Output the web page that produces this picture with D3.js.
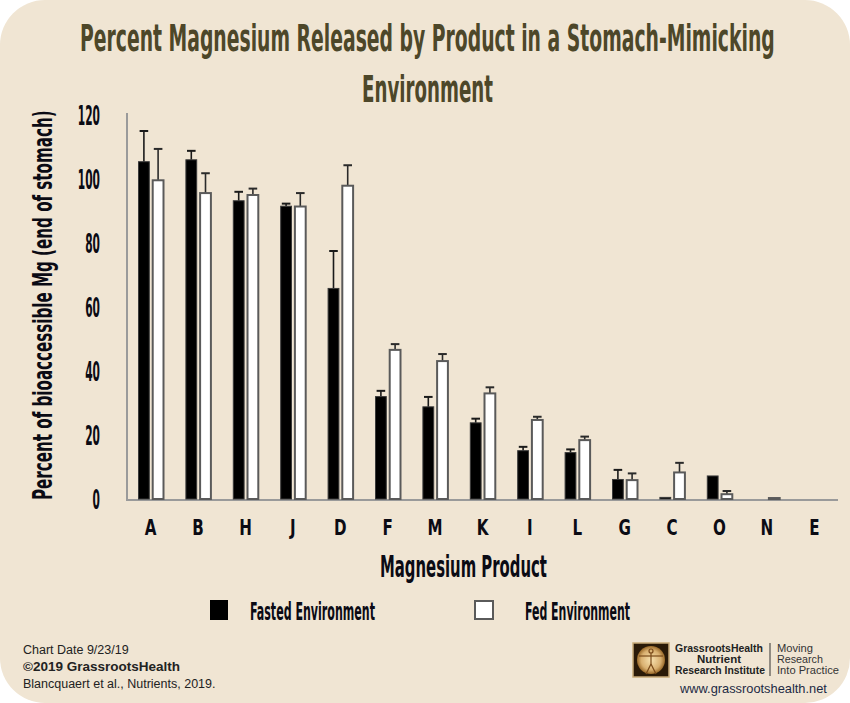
<!DOCTYPE html>
<html>
<head>
<meta charset="utf-8">
<script src="https://cdn.jsdelivr.net/npm/d3@7"></script>
<style>
  html, body { margin: 0; padding: 0; background: #ffffff; }
  svg { display: block; }
</style>
</head>
<body>
<svg id="chart" width="850" height="703"></svg>
<script>
// ---- Data ----
const categories = ["A","B","H","J","D","F","M","K","I","L","G","C","O","N","E"];
const fastedValues = [105.4, 106.0, 93.2, 91.5, 65.8, 32.0, 28.8, 23.8, 15.1, 14.5, 6.1, 0.5, 7.2, 0, 0];
const fastedErrors = [115.0, 108.8, 96.0, 92.3, 77.5, 33.8, 31.9, 25.1, 16.3, 15.5, 9.1, 0.5, 7.2, 0, 0];
const fedValues    = [99.6, 95.6, 95.0, 91.4, 97.9, 46.6, 43.1, 33.0, 24.7, 18.4, 5.9, 8.3, 1.5, 0.3, 0];
const fedErrors    = [109.4, 101.8, 97.0, 95.6, 104.3, 48.4, 45.3, 34.9, 25.7, 19.5, 8.0, 11.3, 2.5, 0.3, 0];
const yTicks = [0, 20, 40, 60, 80, 100, 120];
const seriesNames = ["Fasted Environment", "Fed Environment"];

const condensed = "'Liberation Sans Narrow','DejaVu Sans Condensed','Arial Narrow',sans-serif";
const svg = d3.select("#chart");

// fit a text horizontally to a target width by scaling (keeps screen bbox correct)
function fitText(parent, str, opts) {
  const g = parent.append("g");
  const t = g.append("text").text(str)
    .attr("text-anchor", "start")
    .attr("font-family", opts.family || condensed)
    .attr("font-weight", opts.weight || "bold")
    .attr("font-size", opts.size)
    .attr("fill", opts.fill || "#0b0b14");
  const w = t.node().getComputedTextLength();
  const sx = opts.width / w;
  let ox = 0;
  if (opts.anchor === "middle") ox = -opts.width / 2;
  if (opts.anchor === "end") ox = -opts.width;
  g.attr("transform", "translate(" + opts.x + "," + opts.y + ")" +
    (opts.rotate ? " rotate(" + opts.rotate + ")" : "") +
    " translate(" + ox + ",0) scale(" + sx + ",1)");
  return g;
}

// background card
svg.append("rect").attr("x", 0).attr("y", 0).attr("width", 850).attr("height", 703)
  .attr("rx", 45).attr("ry", 45).attr("fill", "#f0e5d3");

// scales
const x = d3.scaleBand().domain(categories).range([127, 838]);
const x1 = d3.scaleBand().domain(["fasted", "fed"]).range([0, 25]).paddingInner(0.24);
const y = d3.scaleLinear().domain([0, 120]).range([499, 115]);

// title
fitText(svg, "Percent Magnesium Released by Product in a Stomach-Mimicking",
  {x: 427.5, y: 51, width: 695, size: 37, anchor: "middle", fill: "#4d4729"});
fitText(svg, "Environment",
  {x: 427.5, y: 102, width: 131, size: 37, anchor: "middle", fill: "#4d4729"});

// y axis
const yAxis = svg.append("g").attr("transform", "translate(127,0)")
  .call(d3.axisLeft(y).tickValues(yTicks).tickSize(0).tickFormat(""));
yAxis.select(".domain").attr("stroke", "#9a9a9a").attr("stroke-width", 2)
  .attr("d", "M0,113V500");
yAxis.selectAll(".tick").each(function(d) {
  fitText(d3.select(this), String(d),
    {x: -27, y: 9, width: String(d).length * 7.4, size: 26, anchor: "end"});
});

// x axis
const xAxis = svg.append("g").attr("transform", "translate(0,500)")
  .call(d3.axisBottom(x).tickSize(0).tickFormat(""));
xAxis.select(".domain").attr("stroke", "#9a9a9a").attr("stroke-width", 2)
  .attr("d", "M126,0H838");
xAxis.selectAll(".tick").each(function(d) {
  const t = d3.select(this).append("text").text(d)
    .attr("font-family", condensed).attr("font-weight", "bold").attr("font-size", 21)
    .attr("fill", "#0b0b14").attr("text-anchor", "middle")
    .attr("transform", "translate(0,35) scale(0.8,1)");
});

// bars
const rows = categories.map((c, i) => ({
  cat: c,
  fasted: fastedValues[i], fastedErr: fastedErrors[i],
  fed: fedValues[i], fedErr: fedErrors[i]
}));

const groups = svg.append("g").selectAll("g").data(rows).join("g")
  .attr("transform", d => "translate(" + (x(d.cat) + 11.5) + ",0)");

function drawErr(key, errKey, color) {
  groups.filter(d => d[errKey] > d[key]).each(function(d) {
    const g = d3.select(this);
    const cx = x1(key) + x1.bandwidth() / 2;
    g.append("line").attr("x1", cx).attr("x2", cx)
      .attr("y1", y(d[key])).attr("y2", y(d[errKey]))
      .attr("stroke", color).attr("stroke-width", 1.6);
    g.append("line").attr("x1", cx - 4.3).attr("x2", cx + 4.3)
      .attr("y1", y(d[errKey])).attr("y2", y(d[errKey]))
      .attr("stroke", color).attr("stroke-width", 2);
  });
}
drawErr("fasted", "fastedErr", "#1a1a1a");
drawErr("fed", "fedErr", "#2a2a2a");

groups.filter(d => d.fasted > 0).append("rect")
  .attr("x", x1("fasted")).attr("width", x1.bandwidth())
  .attr("y", d => y(d.fasted)).attr("height", d => Math.max(1, y(0) - y(d.fasted)))
  .attr("fill", "#000").attr("stroke", "#3a3a3a").attr("stroke-width", 1);

groups.filter(d => d.fed > 0).append("rect")
  .attr("x", x1("fed")).attr("width", x1.bandwidth())
  .attr("y", d => y(d.fed)).attr("height", d => Math.max(1, y(0) - y(d.fed)))
  .attr("fill", "#ffffff").attr("stroke", "#5a5a5a").attr("stroke-width", 2);

// axis titles
fitText(svg, "Magnesium Product", {x: 463.5, y: 577, width: 167, size: 31, anchor: "middle"});
fitText(svg, "Percent of bioaccessible Mg (end of stomach)",
  {x: 52, y: 305, width: 390, size: 26, anchor: "middle", rotate: -90});

// legend
svg.append("rect").attr("x", 210).attr("y", 600).attr("width", 18).attr("height", 20)
  .attr("fill", "#000");
svg.append("rect").attr("x", 475).attr("y", 601).attr("width", 18).attr("height", 18)
  .attr("fill", "#ffffff").attr("stroke", "#5a5a5a").attr("stroke-width", 2);
fitText(svg, seriesNames[0], {x: 250, y: 620, width: 125, size: 25});
fitText(svg, seriesNames[1], {x: 525, y: 620, width: 105, size: 25});

// footer left
const foot = svg.append("g").attr("font-family", "'Liberation Sans',Arial,sans-serif")
  .attr("fill", "#222").attr("font-size", 12.5);
foot.append("text").attr("x", 23).attr("y", 654).text("Chart Date 9/23/19");
foot.append("text").attr("x", 23).attr("y", 671).attr("font-weight", "bold")
  .attr("font-size", 13.5).text("©2019 GrassrootsHealth");
foot.append("text").attr("x", 23).attr("y", 688).text("Blancquaert et al., Nutrients, 2019.");

// logo
const defs = svg.append("defs");
const rg = defs.append("radialGradient").attr("id", "gold");
rg.append("stop").attr("offset", "0%").attr("stop-color", "#f8e2b0");
rg.append("stop").attr("offset", "70%").attr("stop-color", "#d9b070");
rg.append("stop").attr("offset", "100%").attr("stop-color", "#9a6a2a");
const logo = svg.append("g");
logo.append("rect").attr("x", 633).attr("y", 643).attr("width", 36).attr("height", 34)
  .attr("fill", "#2a1a08").attr("stroke", "#c8aa78").attr("stroke-width", 1.5);
logo.append("circle").attr("cx", 651).attr("cy", 660).attr("r", 14).attr("fill", "url(#gold)");
const man = logo.append("g").attr("stroke", "#7a4a1a").attr("stroke-width", 1.2).attr("fill", "none");
man.append("circle").attr("cx", 651).attr("cy", 651).attr("r", 2);
man.append("line").attr("x1", 651).attr("y1", 653).attr("x2", 651).attr("y2", 664);
man.append("line").attr("x1", 639).attr("y1", 656).attr("x2", 663).attr("y2", 656);
man.append("line").attr("x1", 651).attr("y1", 664).attr("x2", 646).attr("y2", 674);
man.append("line").attr("x1", 651).attr("y1", 664).attr("x2", 656).attr("y2", 674);

const lf = "'Liberation Sans','DejaVu Sans',sans-serif";
fitText(svg, "GrassrootsHealth", {x: 719, y: 652, width: 88, size: 11, anchor: "middle", family: lf, fill: "#222"});
fitText(svg, "Nutrient", {x: 719, y: 663, width: 44, size: 11, anchor: "middle", family: lf, fill: "#222"});
fitText(svg, "Research Institute", {x: 720, y: 674, width: 90, size: 11, anchor: "middle", family: lf, fill: "#222"});
svg.append("line").attr("x1", 770).attr("x2", 770).attr("y1", 643).attr("y2", 676)
  .attr("stroke", "#333").attr("stroke-width", 1);
fitText(svg, "Moving", {x: 777, y: 652, width: 36, size: 11, weight: "normal", family: lf, fill: "#333"});
fitText(svg, "Research", {x: 777, y: 663, width: 46, size: 11, weight: "normal", family: lf, fill: "#333"});
fitText(svg, "Into Practice", {x: 777, y: 674, width: 62, size: 11, weight: "normal", family: lf, fill: "#333"});
fitText(svg, "www.grassrootshealth.net", {x: 680, y: 693, width: 147, size: 13, weight: "normal", family: lf, fill: "#1c2a44"});
</script>
</body>
</html>
